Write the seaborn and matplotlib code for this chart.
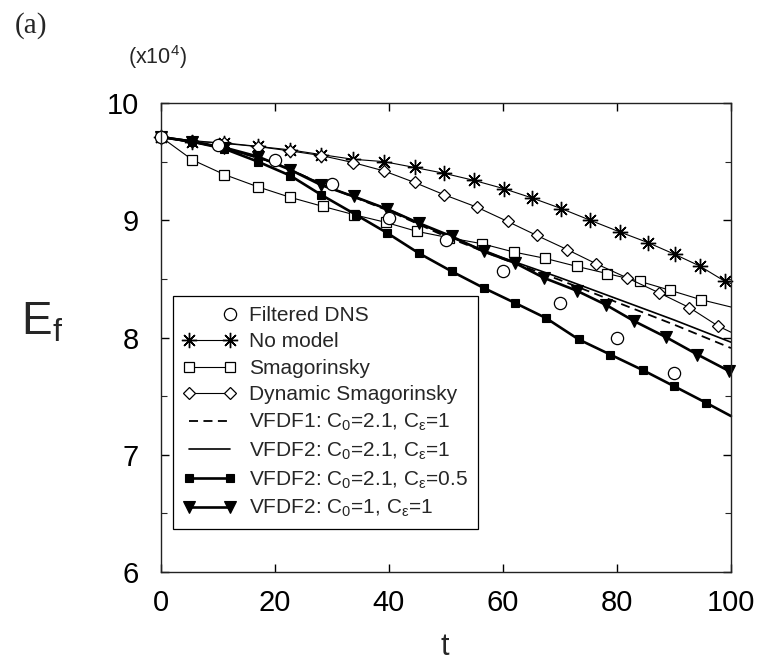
import numpy as np
import pandas as pd
import seaborn as sns
import matplotlib
matplotlib.use("Agg")
import matplotlib.pyplot as plt
from matplotlib.legend_handler import HandlerLine2D
from matplotlib.ticker import MultipleLocator

# ---------------- data (E_f in units of 1e4) ----------------
t_dns = [0, 10, 20, 30, 40, 50, 60, 70, 80, 90]
v_dns = [9.71, 9.64, 9.515, 9.31, 9.02, 8.83, 8.565, 8.295, 8.00, 7.70]

t_nomodel = [0, 5.5, 11.1, 17.0, 22.7, 28.1, 33.7, 39.1, 44.5, 49.7, 54.9, 60.1,
             65.1, 70.2, 75.3, 80.5, 85.4, 90.1, 94.5, 98.9, 100]
v_nomodel = [9.71, 9.67, 9.66, 9.63, 9.60, 9.56, 9.52, 9.50, 9.45, 9.40, 9.34, 9.27,
             9.19, 9.10, 9.00, 8.90, 8.81, 8.71, 8.61, 8.48, 8.46]

t_smag = [0, 5.5, 11.1, 17.0, 22.7, 28.4, 33.9, 39.5, 44.9, 50.6, 56.3, 61.9,
          67.4, 72.9, 78.3, 84.0, 89.3, 94.7, 100]
v_smag = [9.71, 9.515, 9.39, 9.285, 9.195, 9.118, 9.047, 8.981, 8.905, 8.85, 8.80, 8.729,
          8.675, 8.607, 8.545, 8.479, 8.403, 8.323, 8.26]

t_dyn = [0, 5.5, 11.1, 17.0, 22.7, 28.1, 33.7, 39.1, 44.5, 49.7, 55.4, 60.8,
         65.9, 71.3, 76.3, 81.8, 87.3, 92.7, 97.8, 100]
v_dyn = [9.71, 9.68, 9.655, 9.628, 9.591, 9.552, 9.492, 9.421, 9.322, 9.217, 9.112, 8.99,
         8.871, 8.749, 8.63, 8.508, 8.383, 8.255, 8.096, 8.045]

t_vfdf1 = [0, 10, 20, 30, 40, 50, 60, 70, 80, 90, 100]
v_vfdf1 = [9.71, 9.63, 9.49, 9.27, 9.08, 8.86, 8.67, 8.49, 8.30, 8.11, 7.91]

t_vfdf2 = [0, 10, 20, 30, 40, 50, 60, 70, 80, 90, 100]
v_vfdf2 = [9.71, 9.63, 9.49, 9.27, 9.09, 8.87, 8.68, 8.51, 8.33, 8.15, 7.96]

t_c05 = [0, 5.5, 11.1, 17.0, 22.7, 28.1, 34.2, 39.7, 45.2, 51.0, 56.6, 62.1,
         67.5, 73.3, 78.8, 84.6, 90.0, 95.6, 100]
v_c05 = [9.71, 9.67, 9.61, 9.50, 9.38, 9.217, 9.047, 8.891, 8.72, 8.564, 8.423, 8.295,
         8.167, 7.983, 7.855, 7.72, 7.585, 7.444, 7.33]

t_c01 = [0, 5.5, 11.1, 17.0, 22.7, 28.1, 33.8, 39.7, 45.2, 51.0, 56.6, 62.1,
         67.2, 72.9, 78.0, 83.0, 88.6, 94.1, 99.7]
v_c01 = [9.71, 9.67, 9.62, 9.543, 9.43, 9.30, 9.203, 9.095, 8.976, 8.862, 8.734, 8.636,
         8.508, 8.40, 8.28, 8.14, 8.003, 7.855, 7.713]

labels = ["Filtered DNS", "No model", "Smagorinsky", "Dynamic Smagorinsky",
          r"VFDF1: C$_0$=2.1, C$_\varepsilon$=1",
          r"VFDF2: C$_0$=2.1, C$_\varepsilon$=1",
          r"VFDF2: C$_0$=2.1, C$_\varepsilon$=0.5",
          r"VFDF2: C$_0$=1, C$_\varepsilon$=1"]

# ---------------- style ----------------
sns.set_style("ticks")
plt.rcParams["font.family"] = ["Liberation Sans", "DejaVu Sans"]
plt.rcParams["mathtext.fontset"] = "custom"
plt.rcParams["mathtext.rm"] = "Liberation Sans"
plt.rcParams["mathtext.it"] = "Liberation Sans:italic"
plt.rcParams["mathtext.default"] = "regular"

fig = plt.figure(figsize=(7.64, 6.67), dpi=100)
ax = fig.add_axes([0.2107, 0.1424, 0.7461, 0.7032])


def draw(t, v, label, **kw):
    sns.lineplot(x=t, y=v, ax=ax, label=label, color="k", sort=False,
                 estimator=None, clip_on=False, **kw)


draw(t_nomodel, v_nomodel, labels[1], lw=0.8, marker=(8, 2, 0), ms=11,
     mec="k", mew=1.0, markevery=list(range(len(t_nomodel) - 1)))
draw(t_smag, v_smag, labels[2], lw=0.8, marker="s", ms=6.5, mfc="white",
     mec="k", mew=0.9, markevery=list(range(len(t_smag) - 1)))
draw(t_dyn, v_dyn, labels[3], lw=0.8, marker="D", ms=6.0, mfc="white",
     mec="k", mew=0.9, markevery=list(range(len(t_dyn) - 1)))
draw(t_vfdf1, v_vfdf1, labels[4], lw=1.3, linestyle=(0, (5, 3)))
draw(t_vfdf2, v_vfdf2, labels[5], lw=1.2)
draw(t_c05, v_c05, labels[6], lw=1.9, marker="s", ms=6.0, mfc="k", mec="k",
     mew=0.8, markevery=list(range(len(t_c05) - 1)))
draw(t_c01, v_c01, labels[7], lw=1.9, marker="v", ms=8.0, mfc="k", mec="k",
     mew=0.8)
draw(t_dns, v_dns, labels[0], linestyle="none", marker="o", ms=8.8,
     mfc="white", mec="k", mew=0.9)

ax.set_xlim(0, 100)
ax.set_ylim(6, 10)
ax.set_xlabel("")
ax.set_ylabel("")
ax.xaxis.set_major_locator(MultipleLocator(20))
ax.yaxis.set_major_locator(MultipleLocator(1))
ax.yaxis.set_minor_locator(MultipleLocator(0.5))
ax.tick_params(axis="both", which="major", direction="in", top=True, right=True,
               length=6, width=1, labelsize=21, colors="k")
ax.tick_params(axis="y", which="minor", direction="in", left=True, right=True,
               length=4, width=0.8)
ax.tick_params(axis="x", pad=12)
ax.tick_params(axis="y", pad=16)
for s in ax.spines.values():
    s.set_linewidth(1.0)
    s.set_color("#222222")


class EndHandler(HandlerLine2D):
    def __init__(self, me=None, **kw):
        super().__init__(**kw)
        self.me = me

    def create_artists(self, legend, orig_handle, xdescent, ydescent, width,
                       height, fontsize, trans):
        arts = super().create_artists(legend, orig_handle, xdescent, ydescent,
                                      width, height, fontsize, trans)
        for a in arts:
            a.set_markevery(self.me)
        return arts


handles, labs = ax.get_legend_handles_labels()
order = [labs.index(l) for l in labels]
handles = [handles[i] for i in order]
labs = [labs[i] for i in order]
hmap = {h: EndHandler(me=[1] if l == "Filtered DNS" else None)
        for h, l in zip(handles, labs)}
leg = ax.legend(handles, labs, handler_map=hmap, loc="lower left",
                bbox_to_anchor=(0.021, 0.092), borderaxespad=0, fontsize=15,
                frameon=True, fancybox=False, edgecolor="k", framealpha=1,
                handlelength=2.6, handletextpad=0.6, labelspacing=0.36,
                borderpad=0.45, numpoints=2)
leg.get_frame().set_linewidth(0.9)

fig.text(445 / 764, (667 - 655) / 667, "t", ha="center", va="baseline", fontsize=22)
fig.text(0.055, 0.517, r"E$_\mathrm{f}$", ha="center", va="center", fontsize=33)
fig.text(157 / 764, 0.915, r"(x10$^4$)", ha="center", va="center", fontsize=15.5)
fig.text(0.041, 0.962, "(a)", ha="center", va="center", fontsize=21,
         family="Liberation Serif")

fig.savefig("out.png", dpi=100)
